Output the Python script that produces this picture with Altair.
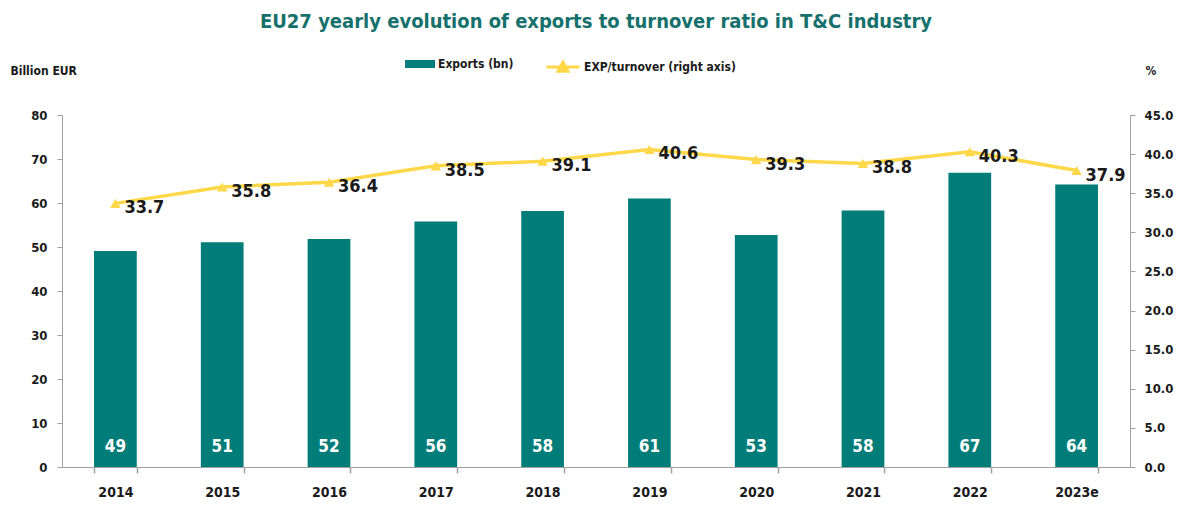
import altair as alt
import pandas as pd

years = ["2014", "2015", "2016", "2017", "2018", "2019", "2020", "2021", "2022", "2023e"]
exports_bn = [49.1, 51.1, 51.8, 55.8, 58.2, 61.0, 52.7, 58.3, 66.9, 64.2]
exports_lbl = ["49", "51", "52", "56", "58", "61", "53", "58", "67", "64"]
ratio_pct = [33.7, 35.8, 36.4, 38.5, 39.1, 40.6, 39.3, 38.8, 40.3, 37.9]
ratio_lbl = ["33.7", "35.8", "36.4", "38.5", "39.1", "40.6", "39.3", "38.8", "40.3", "37.9"]

df = pd.DataFrame({
    "year": years,
    "exports": exports_bn,
    "exp_lbl": exports_lbl,
    "ratio": ratio_pct,
    "ratio_lbl": ratio_lbl,
    "zero": [0] * len(years),
    "s_bar": ["Exports (bn)"] * len(years),
    "s_line": ["EXP/turnover (right axis)"] * len(years),
})

FONT = "DejaVu Sans Condensed, DejaVu Sans, sans-serif"
TEAL = "#007d78"
YEL = "#ffd84a"
GRAY = "#a0a0a0"
DARK = "#1a1a1a"

x_enc = alt.X("year:N", sort=years, title=None,
              scale=alt.Scale(paddingInner=0.6, paddingOuter=0.3),
              axis=alt.Axis(labelAngle=0, tickBand="extent", domainColor=GRAY, tickColor=GRAY,
                            tickSize=6, tickWidth=1.5, labelPadding=12, labelFontSize=14, labelFont=FONT,
                            labelFontWeight="bold", labelColor=DARK))

left_axis = alt.Axis(values=[0, 10, 20, 30, 40, 50, 60, 70, 80], grid=False,
                     domainColor=GRAY, tickColor=GRAY, tickSize=5, labelPadding=10,
                     labelFontSize=13, labelFont=FONT, labelFontWeight="bold", labelColor=DARK,
                     title="Billion EUR", titleAngle=0, titleX=-52, titleY=-45,
                     titleAlign="left", titleBaseline="middle", titleFont=FONT,
                     titleFontSize=12, titleFontWeight="bold", titleColor=DARK)

right_axis = alt.Axis(orient="right", values=[0, 5, 10, 15, 20, 25, 30, 35, 40, 45], format=".1f",
                      grid=False, domainColor=GRAY, tickColor=GRAY, tickSize=5, labelPadding=9,
                      labelFontSize=13, labelFont=FONT, labelFontWeight="bold", labelColor=DARK,
                      title="%", titleAngle=0, titleX=15, titleY=-45, titleAlign="left",
                      titleBaseline="middle", titleFont=FONT, titleFontSize=12,
                      titleFontWeight="bold", titleColor=DARK)

bars = alt.Chart(df).mark_bar(color=TEAL).encode(
    x=x_enc,
    y=alt.Y("exports:Q", scale=alt.Scale(domain=[0, 80]), axis=left_axis),
    color=alt.Color("s_bar:N", scale=alt.Scale(range=[TEAL]),
                    legend=alt.Legend(title=None, orient="none", legendX=343, legendY=-66,
                                      symbolType="M-1,-0.27H1V0.27H-1Z", symbolSize=900,
                                      symbolStrokeWidth=0, labelFont=FONT, labelFontSize=12,
                                      labelFontWeight="bold", labelColor=DARK, labelOffset=3,
                                      labelLimit=300)),
)

bar_text = alt.Chart(df).mark_text(color="white", fontSize=17, font=FONT, fontWeight="bold",
                                   baseline="middle", dy=-20).encode(
    x=alt.X("year:N", sort=years),
    y=alt.Y("zero:Q", scale=alt.Scale(domain=[0, 80]), axis=left_axis),
    text="exp_lbl:N",
)

left = alt.layer(bars, bar_text)

line = alt.Chart(df).mark_line(strokeWidth=3.5,
                               point=alt.OverlayMarkDef(shape="triangle-up", size=110, filled=True, color=YEL)).encode(
    x=alt.X("year:N", sort=years),
    y=alt.Y("ratio:Q", scale=alt.Scale(domain=[0, 45]), axis=right_axis),
    color=alt.Color("s_line:N", scale=alt.Scale(range=[YEL]),
                    legend=alt.Legend(title=None, orient="none", legendX=483, legendY=-66,
                                      symbolType="M-1,0H1M-0.3,0.25L0,-0.3L0.3,0.25Z", symbolSize=1089,
                                      symbolStrokeWidth=3, symbolFillColor=YEL, labelFont=FONT,
                                      labelFontSize=12, labelFontWeight="bold", labelColor=DARK,
                                      labelOffset=3, labelLimit=300)),
)

line_text = alt.Chart(df).mark_text(color=DARK, fontSize=18, font=FONT, fontWeight="bold",
                                    align="left", baseline="middle", dx=9, dy=5).encode(
    x=alt.X("year:N", sort=years),
    y=alt.Y("ratio:Q", scale=alt.Scale(domain=[0, 45]), axis=right_axis),
    text="ratio_lbl:N",
)

right = alt.layer(line, line_text)

chart = alt.layer(left, right).resolve_scale(y="independent", color="independent").properties(
    width=1068, height=352,
    autosize=alt.AutoSizeParams(type="none"),
    padding={"left": 54, "top": 107, "right": 45, "bottom": 32},
    title=alt.TitleParams("EU27 yearly evolution of exports to turnover ratio in T&C industry",
                          font=FONT, fontSize=20, fontWeight="bold", color="#16706b",
                          anchor="middle", offset=17),
).configure_view(stroke=None)

chart.save("out.html", embed_options={"renderer": "svg", "actions": False})
